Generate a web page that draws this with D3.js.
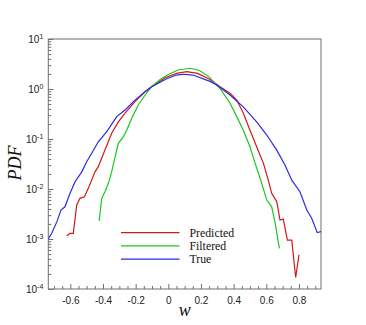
<!DOCTYPE html>
<html>
<head>
<meta charset="utf-8">
<script src="https://cdn.jsdelivr.net/npm/d3@7"></script>
<style>
  body { margin: 0; background: #fff; }
  svg { display: block; }
</style>
</head>
<body>
<div id="chart"></div>
<script>
const WIDTH = 366;
const HEIGHT = 325;

// series names and colours
const seriesNames = ['Predicted', 'Filtered', 'True'];
const seriesColors = ['#d01818', '#18c818', '#2a2ae6'];

// Predicted
const predW = [-0.622, -0.602, -0.582, -0.561, -0.541, -0.514, -0.490, -0.449, -0.429, -0.388,
  -0.347, -0.306, -0.265, -0.204, -0.143, -0.102, -0.02, 0.05, 0.113, 0.18, 0.25, 0.317,
  0.378, 0.419, 0.459, 0.500, 0.541, 0.582, 0.612, 0.633, 0.664, 0.684, 0.704, 0.729,
  0.756, 0.780, 0.800];
const predP = [1.16e-3, 1.3e-3, 1.3e-3, 4.8e-3, 6.5e-3, 7.0e-3, 1.03e-2, 2.2e-2, 2.8e-2, 6.0e-2,
  0.13, 0.22, 0.33, 0.56, 0.88, 1.11, 1.68, 2.05, 2.22, 2.05, 1.58, 1.11,
  0.82, 0.60, 0.33, 0.15, 0.070, 0.033, 0.015, 8.2e-3, 5.6e-3, 2.4e-3, 2.5e-3, 9.5e-4,
  9.5e-4, 1.7e-4, 4.8e-4];

// Filtered
const filtW = [-0.424, -0.418, -0.408, -0.388, -0.367, -0.347, -0.326, -0.306, -0.276, -0.255,
  -0.224, -0.184, -0.143, -0.102, -0.05, 0.0, 0.06, 0.133, 0.19, 0.25, 0.296, 0.317, 0.378,
  0.419, 0.459, 0.500, 0.531, 0.566, 0.603, 0.633, 0.653, 0.680];
const filtP = [2.3e-3, 3.3e-3, 6.5e-3, 8.8e-3, 1.3e-2, 2.2e-2, 4.4e-2, 8.2e-2, 0.11, 0.15,
  0.26, 0.48, 0.75, 1.11, 1.55, 1.95, 2.4, 2.6, 2.35, 1.75, 1.2, 1.03, 0.52,
  0.28, 0.15, 0.070, 0.033, 0.015, 6.0e-3, 4.4e-3, 2.2e-3, 6.5e-4];

// True
const trueW = [-0.735, -0.714, -0.683, -0.657, -0.633, -0.602, -0.571, -0.530, -0.500, -0.469,
  -0.429, -0.377, -0.316, -0.265, -0.204, -0.143, -0.102, -0.01, 0.05, 0.092, 0.15, 0.255,
  0.296, 0.378, 0.459, 0.541, 0.603, 0.664, 0.715, 0.756, 0.806, 0.848, 0.878, 0.912, 0.935];
const trueP = [1.0e-3, 1.3e-3, 2.2e-3, 3.8e-3, 4.4e-3, 8.2e-3, 1.4e-2, 2.2e-2, 3.5e-2, 5.2e-2,
  8.8e-2, 0.14, 0.28, 0.38, 0.60, 0.88, 1.11, 1.6, 1.9, 1.97, 1.9, 1.42,
  1.2, 0.76, 0.44, 0.22, 0.12, 0.060, 0.030, 0.015, 8.8e-3, 3.8e-3, 2.6e-3, 1.34e-3, 1.4e-3];

// axis ticks
const xMajor = [-0.6, -0.4, -0.2, 0, 0.2, 0.4, 0.6, 0.8];
const xTickLabels = ['-0.6', '-0.4', '-0.2', '0', '0.2', '0.4', '0.6', '0.8'];
const yExponents = [-4, -3, -2, -1, 0, 1];

const plot = { left: 48.3, right: 321, top: 39, bottom: 289 };

const x = d3.scaleLinear().domain([-0.735, 0.935]).range([plot.left, plot.right]);
const y = d3.scaleLog().domain([1e-4, 10]).range([plot.bottom, plot.top]);

const svg = d3.select('#chart').append('svg')
  .attr('width', WIDTH)
  .attr('height', HEIGHT);

// clip for curves
svg.append('clipPath').attr('id', 'clip')
  .append('rect')
  .attr('x', plot.left).attr('y', plot.top)
  .attr('width', plot.right - plot.left).attr('height', plot.bottom - plot.top);

const frameColor = '#6e6e6e';
const labelFont = '"Liberation Sans", Arial, sans-serif';
const serifFont = '"Liberation Serif", "Times New Roman", serif';

// bottom ticks (inward)
const xMinor = d3.range(-0.7, 0.95, 0.05).map(v => +v.toFixed(2))
  .filter(v => !xMajor.some(m => Math.abs(m - v) < 1e-6));

const gx = svg.append('g').attr('transform', `translate(0,${plot.bottom})`);
gx.call(d3.axisBottom(x).tickValues(xMajor).tickSize(-5).tickPadding(8)
  .tickFormat((d, i) => xTickLabels[i]));
gx.append('g').call(d3.axisBottom(x).tickValues(xMinor).tickSize(-3).tickFormat(''));
gx.selectAll('.domain').remove();
gx.selectAll('line').attr('stroke', frameColor);
gx.selectAll('text')
  .attr('font-family', labelFont)
  .attr('font-size', 10)
  .attr('fill', '#222');

// left ticks (inward)
const yMinor = [];
for (let e = -4; e < 1; e++) {
  for (let k = 2; k <= 9; k++) yMinor.push(k * Math.pow(10, e));
}
const gy = svg.append('g').attr('transform', `translate(${plot.left},0)`);
gy.call(d3.axisLeft(y).tickValues(yExponents.map(e => Math.pow(10, e))).tickSize(-5).tickFormat(''));
gy.append('g').call(d3.axisLeft(y).tickValues(yMinor).tickSize(-3).tickFormat(''));
gy.selectAll('.domain').remove();
gy.selectAll('line').attr('stroke', frameColor);

// y tick labels as 10^n
const yl = svg.append('g').attr('font-family', labelFont).attr('fill', '#222');
yExponents.forEach(e => {
  const t = yl.append('text')
    .attr('x', plot.left - 5)
    .attr('y', y(Math.pow(10, e)) + 4)
    .attr('text-anchor', 'end')
    .attr('font-size', 10);
  t.append('tspan').text('10');
  t.append('tspan').attr('dy', -4).attr('font-size', 7).text(e < 0 ? '-' + (-e) : String(e));
});

// frame
svg.append('rect')
  .attr('x', plot.left).attr('y', plot.top)
  .attr('width', plot.right - plot.left).attr('height', plot.bottom - plot.top)
  .attr('fill', 'none')
  .attr('stroke', frameColor)
  .attr('stroke-width', 1);

// curves
const line = d3.line().x(d => x(d[0])).y(d => y(d[1]));
const series = [
  d3.zip(predW, predP),
  d3.zip(filtW, filtP),
  d3.zip(trueW, trueP)
];
svg.append('g').attr('clip-path', 'url(#clip)')
  .selectAll('path')
  .data(series)
  .join('path')
  .attr('d', line)
  .attr('fill', 'none')
  .attr('stroke', (d, i) => seriesColors[i])
  .attr('stroke-width', 1.2);

// legend
const legend = svg.append('g');
seriesNames.forEach((name, i) => {
  const ly = 232.7 + i * 13.2;
  legend.append('line')
    .attr('x1', 121).attr('x2', 179.5)
    .attr('y1', ly).attr('y2', ly)
    .attr('stroke', seriesColors[i])
    .attr('stroke-width', 1.2);
  legend.append('text')
    .attr('x', 189.5).attr('y', ly + 4.3)
    .attr('font-family', serifFont)
    .attr('font-size', 11.8)
    .attr('fill', '#111')
    .text(name);
});

// axis titles
svg.append('text')
  .attr('x', (plot.left + plot.right) / 2)
  .attr('y', 316)
  .attr('text-anchor', 'middle')
  .attr('font-family', serifFont)
  .attr('font-style', 'italic')
  .attr('font-size', 18)
  .attr('fill', '#111')
  .text('w');

svg.append('text')
  .attr('transform', `translate(21,163) rotate(-90)`)
  .attr('text-anchor', 'middle')
  .attr('font-family', serifFont)
  .attr('font-style', 'italic')
  .attr('font-size', 18)
  .attr('fill', '#111')
  .text('PDF');
</script>
</body>
</html>
